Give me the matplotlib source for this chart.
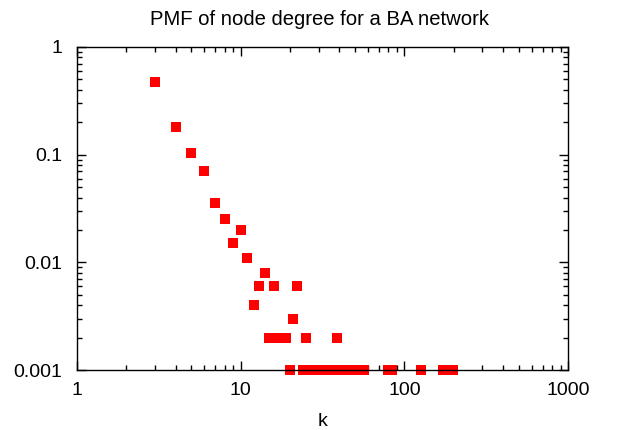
import numpy as np
import matplotlib.pyplot as plt
from matplotlib.ticker import LogLocator, FixedFormatter, FixedLocator, NullFormatter

plt.rcParams['font.family'] = ['Liberation Sans', 'DejaVu Sans']

# degree k and its probability mass
k = [3, 4, 5, 6, 7, 8, 9, 10, 11, 12, 13, 14, 15, 16, 17, 18, 19, 20, 21, 22,
     24, 25, 26, 27, 28, 30, 31, 33, 34, 36, 37, 39, 40, 42, 44, 46, 49, 51, 54, 57,
     79, 84, 127, 172, 186, 198]
pk = [0.47, 0.181, 0.104, 0.070, 0.0356, 0.0253, 0.0151, 0.020, 0.011, 0.004, 0.006, 0.008,
      0.002, 0.006, 0.002, 0.002, 0.002, 0.001, 0.003, 0.006,
      0.001, 0.002, 0.001, 0.001, 0.001, 0.001, 0.001, 0.001, 0.001, 0.001, 0.001, 0.002,
      0.001, 0.001, 0.001, 0.001, 0.001, 0.001, 0.001, 0.001,
      0.001, 0.001, 0.001, 0.001, 0.001, 0.001]

x_ticks = [1, 10, 100, 1000]
x_labels = ['1', '10', '100', '1000']
y_ticks = [0.001, 0.01, 0.1, 1]
y_labels = ['0.001', '0.01', '0.1', '1']

fig = plt.figure(figsize=(6.17, 4.30), dpi=100)
ax = fig.add_axes([0.1248, 0.1395, 0.7958, 0.7512])

ax.plot(k, pk, 's', color='#ff0000', markersize=7.2, markeredgewidth=0, clip_on=False)

ax.set_xscale('log')
ax.set_yscale('log')
ax.set_xlim(1, 1000)
ax.set_ylim(0.001, 1)

ax.xaxis.set_major_locator(FixedLocator(x_ticks))
ax.xaxis.set_major_formatter(FixedFormatter(x_labels))
ax.yaxis.set_major_locator(FixedLocator(y_ticks))
ax.yaxis.set_major_formatter(FixedFormatter(y_labels))
ax.xaxis.set_minor_locator(LogLocator(base=10, subs=np.arange(2, 10), numticks=20))
ax.yaxis.set_minor_locator(LogLocator(base=10, subs=np.arange(2, 10), numticks=20))
ax.xaxis.set_minor_formatter(NullFormatter())
ax.yaxis.set_minor_formatter(NullFormatter())

ax.tick_params(which='both', direction='in', top=True, right=True, width=1.0,
               labelsize=14, colors='black')
ax.tick_params(which='major', length=6.5)
ax.tick_params(which='minor', length=3.5)
ax.tick_params(axis='y', which='major', pad=10.5)
ax.tick_params(axis='x', which='major', pad=8.5)
for s in ax.spines.values():
    s.set_linewidth(1.0)

ax.set_title('PMF of node degree for a BA network', fontsize=14.6, pad=16)
ax.title.set_x(0.494)
ax.set_xlabel('k', fontsize=14, labelpad=10.5)

fig.savefig('out.png', dpi=100)
